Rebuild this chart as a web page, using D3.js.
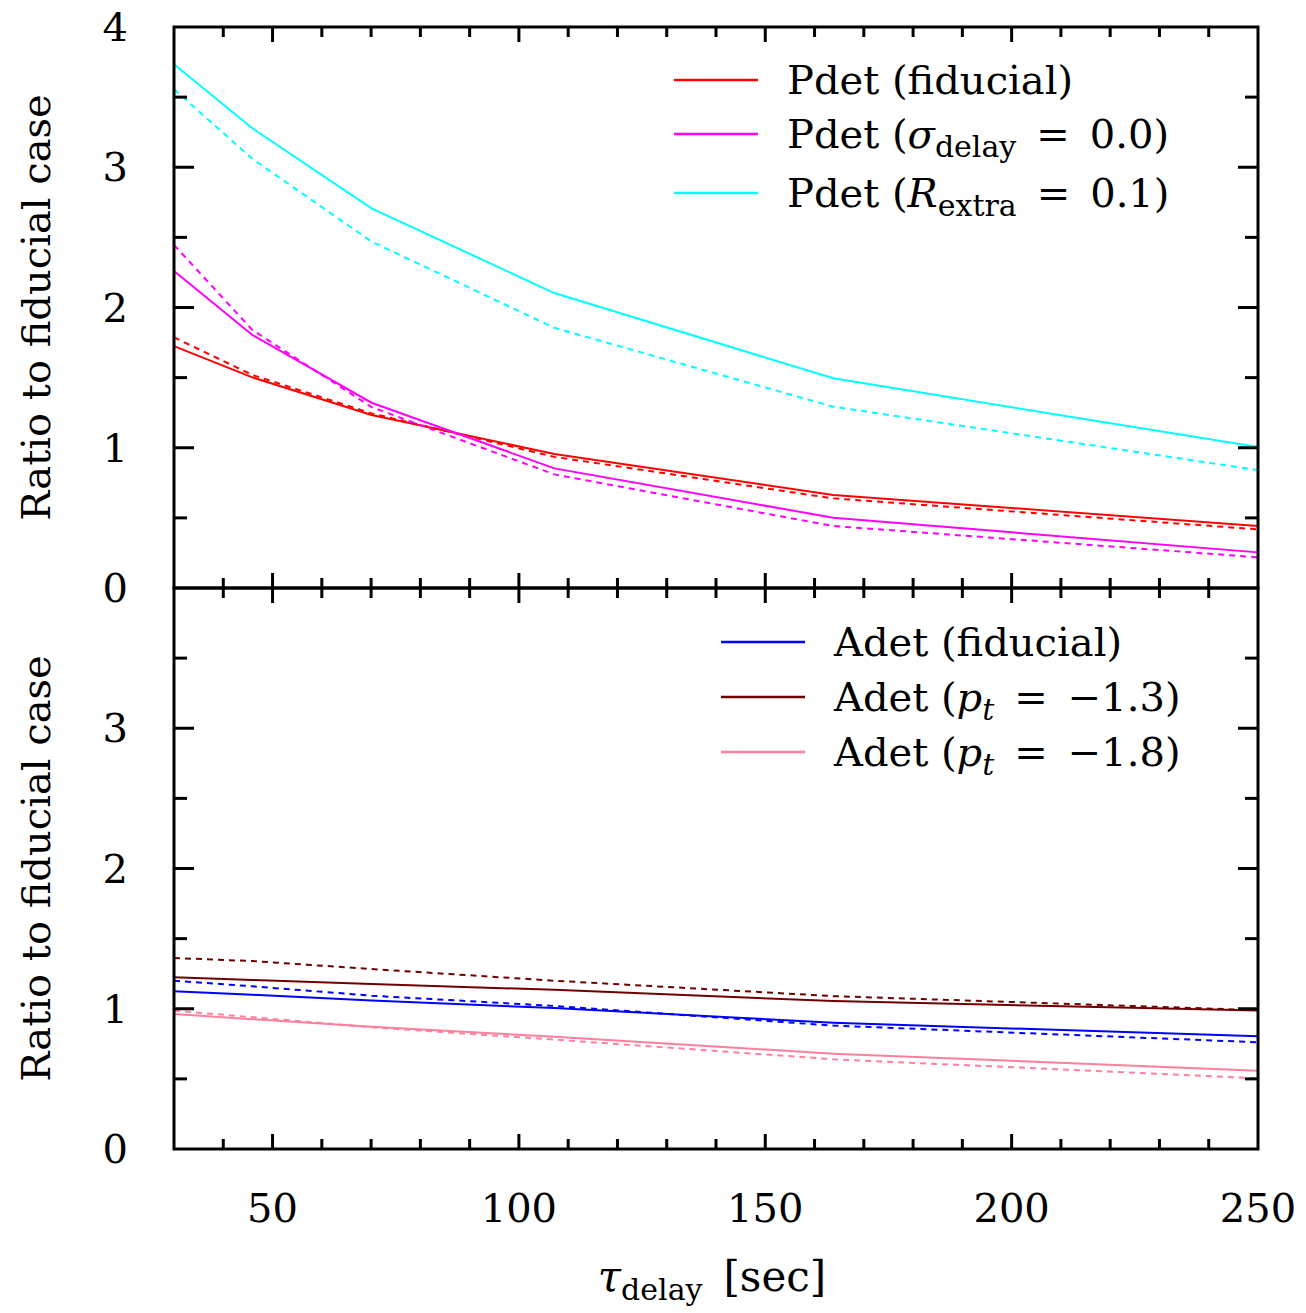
<!DOCTYPE html>
<html lang="en">
<head>
<meta charset="UTF-8">
<title>Ratio to fiducial case</title>
<script src="https://cdn.jsdelivr.net/npm/d3@7"></script>
<style>
  body { margin: 0; background: #fff; }
  text { font-family: "DejaVu Serif", serif; fill: #000; }
</style>
</head>
<body>
<script>
// tau_delay sample points (sec)
var tau = [30, 45.9, 70.1, 107.2, 163.8, 250];

// upper panel: Pdet
var pdetFid     = [1.725, 1.502, 1.234, 0.955, 0.663, 0.442];
var pdetFidDash = [1.787, 1.519, 1.245, 0.935, 0.639, 0.418];
var pdetSig     = [2.260, 1.804, 1.321, 0.853, 0.501, 0.254];
var pdetSigDash = [2.446, 1.840, 1.290, 0.810, 0.442, 0.219];
var pdetR       = [3.734, 3.278, 2.707, 2.103, 1.495, 1.005];
var pdetRDash   = [3.556, 3.060, 2.470, 1.855, 1.293, 0.841];

// lower panel: Adet
var adetFid      = [1.124, 1.100, 1.058, 1.005, 0.900, 0.804];
var adetFidDash  = [1.200, 1.160, 1.093, 1.020, 0.880, 0.761];
var adetP13      = [1.224, 1.205, 1.176, 1.135, 1.055, 0.987];
var adetP13Dash  = [1.362, 1.340, 1.283, 1.200, 1.090, 0.990];
var adetP18      = [0.963, 0.925, 0.872, 0.800, 0.680, 0.558];
var adetP18Dash  = [0.986, 0.940, 0.868, 0.780, 0.640, 0.504];

var xTicks = [50, 100, 150, 200, 250];
var yTicksTop = [0, 1, 2, 3, 4];
var yTicksBottom = [0, 1, 2, 3];

var width = 1306, height = 1313;
var plotLeft = 174, plotRight = 1258, plotTop = 27, panelH = 561;
var SP = '\u2002'; // wider space around "=" like TeX math

var svg = d3.select('body').append('svg')
    .attr('width', width)
    .attr('height', height);

var x = d3.scaleLinear().domain([30, 250]).range([plotLeft, plotRight]);

var line = function (y) {
    return d3.line()
        .x(function (d, i) { return x(tau[i]); })
        .y(function (d) { return y(d); });
};

function panel(y0, series, yTicks, legend, legX) {
    var y = d3.scaleLinear().domain([0, 4]).range([y0 + panelH, y0]);
    var g = svg.append('g');

    series.forEach(function (s) {
        g.append('path')
            .datum(s.values)
            .attr('fill', 'none')
            .attr('stroke', s.color)
            .attr('stroke-width', 2)
            .attr('stroke-dasharray', s.dash ? '6,5' : null)
            .attr('d', line(y));
    });

    // ticks, all four sides, pointing inward
    d3.range(40, 250, 10).forEach(function (v) {
        var len = (v % 50 === 0) ? 15 : 10;
        g.append('line').attr('x1', x(v)).attr('x2', x(v))
            .attr('y1', y0 + panelH).attr('y2', y0 + panelH - len)
            .attr('stroke', '#000').attr('stroke-width', 3);
        g.append('line').attr('x1', x(v)).attr('x2', x(v))
            .attr('y1', y0).attr('y2', y0 + len)
            .attr('stroke', '#000').attr('stroke-width', 3);
    });
    d3.range(0.5, 4, 0.5).forEach(function (v) {
        var len = (v % 1 === 0) ? 20 : 13;
        g.append('line').attr('x1', plotLeft).attr('x2', plotLeft + len)
            .attr('y1', y(v)).attr('y2', y(v))
            .attr('stroke', '#000').attr('stroke-width', 3);
        g.append('line').attr('x1', plotRight).attr('x2', plotRight - len)
            .attr('y1', y(v)).attr('y2', y(v))
            .attr('stroke', '#000').attr('stroke-width', 3);
    });

    g.append('rect')
        .attr('x', plotLeft).attr('y', y0)
        .attr('width', plotRight - plotLeft).attr('height', panelH)
        .attr('fill', 'none').attr('stroke', '#000').attr('stroke-width', 3);

    g.selectAll('.ylab')
        .data(yTicks)
        .enter()
        .append('text')
        .attr('x', 128)
        .attr('y', function (d) { return y(d) + 14; })
        .attr('text-anchor', 'end')
        .attr('font-size', 40)
        .text(function (d) { return d; });

    g.append('text')
        .attr('transform', 'translate(50,' + (y0 + panelH / 2) + ') rotate(-90)')
        .attr('text-anchor', 'middle')
        .attr('font-size', 40)
        .text('Ratio to fiducial case');

    // legend
    legend.forEach(function (l) {
        var ly = l.y;
        g.append('line')
            .attr('x1', legX).attr('x2', legX + 84)
            .attr('y1', ly).attr('y2', ly)
            .attr('stroke', l.color).attr('stroke-width', 2.5);
        var t = g.append('text')
            .attr('x', legX + 113).attr('y', ly + 14)
            .attr('font-size', 40);
        l.parts.forEach(function (p) {
            var ts = t.append('tspan').text(p.t);
            if (p.it) ts.attr('font-style', 'italic');
            if (p.sub) ts.attr('font-size', 30).attr('dy', 9);
            if (p.up) ts.attr('dy', -9);
        });
    });
    return y;
}

panel(plotTop, [
    { values: pdetFid, color: '#ff0000' },
    { values: pdetFidDash, color: '#ff0000', dash: true },
    { values: pdetSig, color: '#ff00ff' },
    { values: pdetSigDash, color: '#ff00ff', dash: true },
    { values: pdetR, color: '#00ffff' },
    { values: pdetRDash, color: '#00ffff', dash: true }
], yTicksTop, [
    { y: 80, color: '#ff0000', parts: [{ t: 'Pdet (fiducial)' }] },
    { y: 134, color: '#ff00ff', parts: [{ t: 'Pdet (' }, { t: 'σ', it: true }, { t: 'delay', sub: true }, { t: SP + '=' + SP + '0.0)', up: true }] },
    { y: 193, color: '#00ffff', parts: [{ t: 'Pdet (' }, { t: 'R', it: true }, { t: 'extra', sub: true }, { t: SP + '=' + SP + '0.1)', up: true }] }
], 674);

panel(plotTop + panelH, [
    { values: adetFid, color: '#0000ff' },
    { values: adetFidDash, color: '#0000ff', dash: true },
    { values: adetP13, color: '#700000' },
    { values: adetP13Dash, color: '#700000', dash: true },
    { values: adetP18, color: '#ff7f9e' },
    { values: adetP18Dash, color: '#ff7f9e', dash: true }
], yTicksBottom, [
    { y: 642, color: '#0000ff', parts: [{ t: 'Adet (fiducial)' }] },
    { y: 697, color: '#700000', parts: [{ t: 'Adet (' }, { t: 'p', it: true }, { t: 't', it: true, sub: true }, { t: SP + '=' + SP + '−1.3)', up: true }] },
    { y: 752, color: '#ff7f9e', parts: [{ t: 'Adet (' }, { t: 'p', it: true }, { t: 't', it: true, sub: true }, { t: SP + '=' + SP + '−1.8)', up: true }] }
], 721);

// x tick labels
svg.selectAll('.xlab')
    .data(xTicks)
    .enter()
    .append('text')
    .attr('x', function (d) { return x(d); })
    .attr('y', 1222)
    .attr('text-anchor', 'middle')
    .attr('font-size', 40)
    .text(function (d) { return d; });

// x axis title
var xt = svg.append('text')
    .attr('x', 712).attr('y', 1291)
    .attr('text-anchor', 'middle')
    .attr('font-size', 42);
xt.append('tspan').attr('font-style', 'italic').text('τ');
xt.append('tspan').attr('font-size', 30).attr('dy', 9).text('delay');
xt.append('tspan').attr('dy', -9).text(SP + '[sec]');
</script>
</body>
</html>
